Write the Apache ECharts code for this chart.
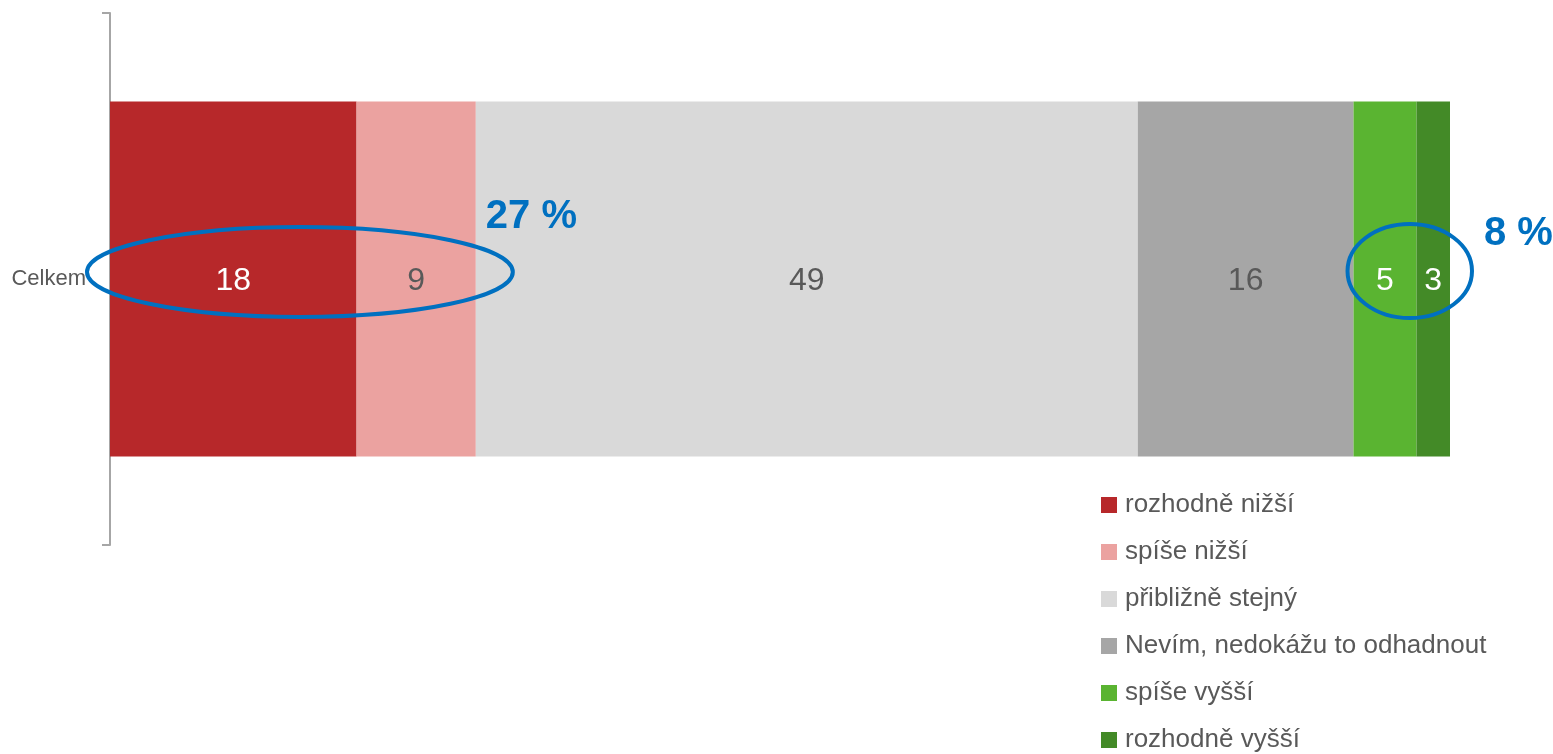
<!DOCTYPE html>
<html>
<head>
<meta charset="utf-8">
<script src="https://cdn.jsdelivr.net/npm/echarts@6/dist/echarts.min.js"></script>
<style>
    html, body {margin: 0; padding: 0; background: #fff;}
    #chart {width: 1553px; height: 754px;}
</style>
</head>
<body>
<div id="chart"></div>
<script>
// data
var categories = ['Celkem'];
var seriesNames = ['rozhodně nižší', 'spíše nižší', 'přibližně stejný', 'Nevím, nedokážu to odhadnout', 'spíše vyšší', 'rozhodně vyšší'];
var seriesValues = [18.4, 8.9, 49.4, 16.1, 4.7, 2.5];
var seriesColors = ['#B7282A', '#EBA2A0', '#D9D9D9', '#A6A6A6', '#5AB431', '#438A27'];
var labelColors = ['#fff', '#595959', '#595959', '#595959', '#fff', '#fff'];
var groupLabels = ['27 %', '8 %'];

var FONT = '"Liberation Sans", Arial, sans-serif';

var myChart = echarts.init(document.getElementById('chart'));

var series = seriesNames.map(function (name, i) {
    return {
        name: name,
        type: 'bar',
        stack: 'total',
        barWidth: 355,
        itemStyle: {color: seriesColors[i]},
        label: {
            show: true,
            position: 'inside',
            offset: [0, 2],
            color: labelColors[i],
            fontFamily: FONT,
            fontSize: 32,
            formatter: function (p) {
                return Math.round(p.value);
            }
        },
        emphasis: {disabled: true},
        data: [seriesValues[i]]
    };
});

var option = {
    animation: false,
    grid: {left: 110, right: 103, top: 13, bottom: 209},
    xAxis: {
        type: 'value',
        min: 0,
        max: 100,
        show: false
    },
    yAxis: {
        type: 'category',
        data: categories,
        axisLine: {show: true, lineStyle: {color: '#A6A6A6', width: 2}},
        axisTick: {show: true, length: 8, lineStyle: {color: '#A6A6A6', width: 2}},
        axisLabel: {color: '#595959', fontFamily: FONT, fontSize: 22, margin: 24}
    },
    legend: {
        orient: 'vertical',
        left: 1101,
        top: 492,
        height: 262,
        icon: 'rect',
        itemWidth: 16,
        itemHeight: 16,
        itemGap: 21,
        padding: 0,
        selectedMode: false,
        textStyle: {color: '#595959', fontFamily: FONT, fontSize: 26, lineHeight: 24, padding: [0, 0, 0, 3]},
        data: seriesNames
    },
    series: series
};

myChart.setOption(option);

// ellipses round the first two and last two segments
function px(v) {
    return myChart.convertToPixel({gridIndex: 0}, [v, categories[0]]);
}
var lowEnd = seriesValues[0] + seriesValues[1];
var highStart = 100 - seriesValues[4] - seriesValues[5];
var a0 = px(0), a1 = px(lowEnd), b0 = px(highStart), b1 = px(100);

myChart.setOption({
    graphic: [
        {
            type: 'ellipse',
            shape: {cx: (a0[0] + a1[0]) / 2 + 7, cy: a0[1] - 7, rx: (a1[0] - a0[0]) / 2 + 30, ry: 45},
            style: {fill: null, stroke: '#0070C0', lineWidth: 4},
            z: 100
        },
        {
            type: 'ellipse',
            shape: {cx: (b0[0] + b1[0]) / 2 + 8, cy: b0[1] - 8, rx: (b1[0] - b0[0]) / 2 + 14, ry: 47},
            style: {fill: null, stroke: '#0070C0', lineWidth: 4},
            z: 100
        },
        {
            type: 'text',
            left: a1[0] + 10,
            top: 197,
            style: {text: groupLabels[0], fill: '#0070C0', font: 'bold 40px ' + FONT},
            z: 100
        },
        {
            type: 'text',
            left: b1[0] + 34,
            top: 214,
            style: {text: groupLabels[1], fill: '#0070C0', font: 'bold 40px ' + FONT},
            z: 100
        }
    ]
});
</script>
</body>
</html>
